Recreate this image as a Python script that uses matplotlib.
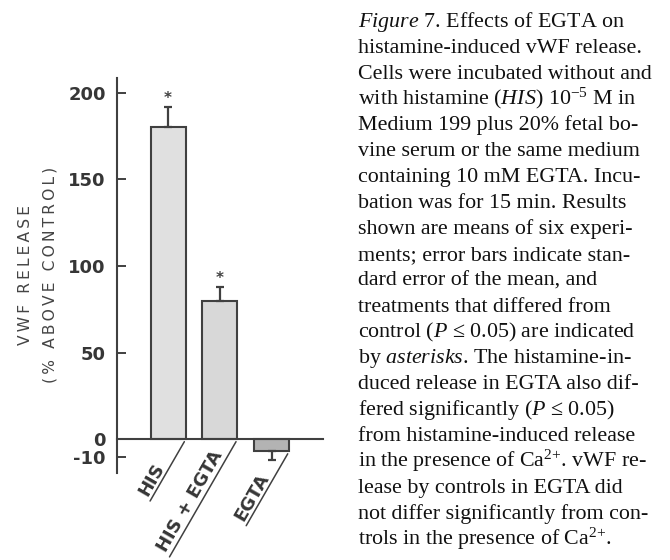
import matplotlib
matplotlib.use('Agg')
import matplotlib.pyplot as plt
import matplotlib.transforms as mtransforms
from matplotlib.textpath import TextPath
from matplotlib.font_manager import FontProperties
import numpy as np

# ---------------- data ----------------
categories = ["HIS", "HIS + EGTA", "EGTA"]
release = [180, 80, -7]          # vWF release, % above control
sem = [12, 8, 5]                 # standard error of the mean
significant = [True, True, False]
y_ticks = [-10, 0, 50, 100, 150, 200]
y_tick_labels = ["-10", "0", "50", "100", "150", "200"]
ylabel_line1 = "VWF RELEASE"
ylabel_line2 = "(% ABOVE CONTROL)"

caption_lines = [
    r"$\mathit{Figure\ 7.}\,$Effects of EGTA on",
    "histamine-induced vWF release.",
    "Cells were incubated without and",
    r"with histamine ($\mathit{HIS}$) 10$^{-5}$ M in",
    "Medium 199 plus 20% fetal bo-",
    "vine serum or the same medium",
    "containing 10 mM EGTA. Incu-",
    "bation was for 15 min. Results",
    "shown are means of six experi-",
    "ments; error bars indicate stan-",
    "dard error of the mean, and",
    "treatments that differed from",
    r"control ($\mathit{P}$ ≤ 0.05) are indicated",
    r"by $\mathit{asterisks}$. The histamine-in-",
    "duced release in EGTA also dif-",
    r"fered significantly ($\mathit{P}$ ≤ 0.05)",
    "from histamine-induced release",
    r"in the presence of Ca$^{2{+}}$. vWF re-",
    "lease by controls in EGTA did",
    "not differ significantly from con-",
    r"trols in the presence of Ca$^{2{+}}$.",
]

# ---------------- style ----------------
plt.rcParams['mathtext.fontset'] = 'custom'
plt.rcParams['mathtext.rm'] = 'Liberation Serif'
plt.rcParams['mathtext.it'] = 'Liberation Serif:italic'
plt.rcParams['mathtext.bf'] = 'Liberation Serif:bold'

W, H, DPI = 670, 560, 100
fig = plt.figure(figsize=(W / DPI, H / DPI), dpi=DPI)
fig.patch.set_facecolor('white')

ink = '#404040'
ax = fig.add_axes([117 / W, 1 - 472.7 / H, 205.7 / W, 394.4 / H])
ax.set_facecolor('none')

x = np.arange(len(categories))
bar_w = 0.68
fills = ['#e0e0e0', '#d8d8d8', '#b3b3b3']
ax.bar(x, release, width=bar_w, color=fills, edgecolor=ink, linewidth=1.5, zorder=2)

lower = [e if v < 0 else 0 for v, e in zip(release, sem)]
upper = [e if v >= 0 else 0 for v, e in zip(release, sem)]
ax.errorbar(x, release, yerr=[lower, upper], fmt='none', ecolor=ink,
            elinewidth=1.6, capsize=2.6, capthick=1.6, zorder=3)

for xi, v, e, s in zip(x, release, sem, significant):
    if s:
        ax.annotate('*', xy=(xi, v + e), xycoords='data', xytext=(0, 0.5),
                    textcoords='offset points', ha='center', va='bottom',
                    fontsize=11, fontweight='bold', color=ink)

ax.set_xlim(-0.99, 2.99)
ax.set_ylim(-19.3, 208.3)
for sp in ['top', 'right']:
    ax.spines[sp].set_visible(False)
ax.spines['bottom'].set_position(('data', 0))
for sp in ['left', 'bottom']:
    ax.spines[sp].set_color(ink)
    ax.spines[sp].set_linewidth(1.5)
ax.set_xticks([])
ax.set_yticks(y_ticks, labels=y_tick_labels)
ax.tick_params(axis='y', direction='in', length=6.5, width=1.4, color=ink,
               pad=8.0, labelsize=13, labelcolor='#363636')
for lab in ax.get_yticklabels():
    lab.set_fontweight('bold')

# category labels with underline strokes
lab_fs = 13
fp = FontProperties(family='DejaVu Sans', weight='bold', size=lab_fs)
ang = np.deg2rad(240)
dvec = np.array([np.cos(ang), np.sin(ang)])
pvec = np.array([np.cos(np.deg2rad(150)), np.sin(np.deg2rad(150))])
for xi, v, lab in zip(x, release, categories):
    cx, cy = xi + bar_w / 2, min(0, v)
    tlen = TextPath((0, 0), lab, prop=fp).get_extents().width
    s0 = 2.0
    L = 31 + 0.8 * tlen
    p0 = dvec * s0
    p1 = dvec * (s0 + L)
    base = ax.transData + mtransforms.ScaledTranslation(p0[0] / 72, p0[1] / 72, fig.dpi_scale_trans)
    ax.annotate('', xy=(cx, cy), xycoords=base, xytext=(p1 - p0),
                textcoords='offset points',
                arrowprops=dict(arrowstyle='-', color=ink, lw=1.1,
                                shrinkA=0, shrinkB=0), annotation_clip=False)
    tp = p1 + pvec * 3.4 - dvec * 1.5
    ttr = ax.transData + mtransforms.ScaledTranslation(tp[0] / 72, tp[1] / 72, fig.dpi_scale_trans)
    ax.text(cx, cy, lab, transform=ttr, rotation=60, rotation_mode='anchor',
            ha='left', va='baseline', fontproperties=fp, color='#363636', clip_on=False)

# y label (two lines, letter spaced)
def spaced(s):
    return '\u2009'.join(list(s))

fig.text(26 / W, 1 - 275 / H, spaced(ylabel_line1), rotation=90, ha='center', va='center',
         fontsize=11.2, color='#444444', family='DejaVu Sans')
fig.text(50 / W, 1 - 275 / H, spaced(ylabel_line2), rotation=90, ha='center', va='center',
         fontsize=11.2, color='#444444', family='DejaVu Sans')

# caption
cap_x = 358 / W
y0 = 26.7
dy = 25.9
for i, line in enumerate(caption_lines):
    fig.text(cap_x, 1 - (y0 + i * dy) / H, line, ha='left', va='baseline',
             family='Liberation Serif', fontsize=15.8, color='#111111')

fig.savefig('out.png', dpi=DPI)
